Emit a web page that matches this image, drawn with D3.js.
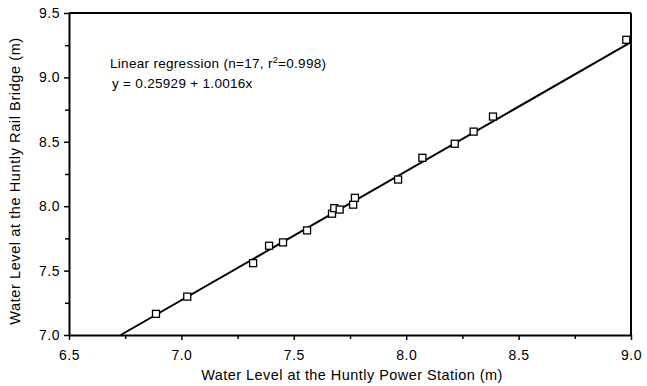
<!DOCTYPE html>
<html>
<head>
<meta charset="utf-8">
<script src="https://cdn.jsdelivr.net/npm/d3@7"></script>
<style>
  body { margin: 0; background: #fff; }
  svg { display: block; font-family: "Liberation Sans", Arial, sans-serif; }
</style>
</head>
<body>
<div id="chart"></div>
<script>
// water levels (m): Huntly Power Station (x) vs Huntly Rail Bridge (y)
const powerStation = [6.887, 7.026, 7.319, 7.390, 7.452, 7.559, 7.670, 7.680, 7.704, 7.764, 7.772, 7.964, 8.072, 8.216, 8.300, 8.386, 8.979];
const railBridge   = [7.164, 7.298, 7.558, 7.693, 7.719, 7.812, 7.942, 7.985, 7.974, 8.012, 8.065, 8.207, 8.376, 8.485, 8.579, 8.696, 9.292];
const fitCoef = [0.25929, 1.0016];
const xTicks = [6.5, 7.0, 7.5, 8.0, 8.5, 9.0];
const yTicks = [7.0, 7.5, 8.0, 8.5, 9.0, 9.5];
const minorTicks = [6.75, 7.25, 7.75, 8.25, 8.75, 9.25];

const W = 647, H = 386;
const m = { left: 69, right: W - 631, top: 13, bottom: H - 335 };
const svg = d3.select('#chart').append('svg').attr('width', W).attr('height', H);

const x = d3.scaleLinear().domain([6.5, 9.0]).range([m.left, W - m.right]);
const y = d3.scaleLinear().domain([7.0, 9.5]).range([H - m.bottom, m.top]);

const styleText = g => g.selectAll('text').attr('font-size', 14).attr('fill', '#000')
  .attr('letter-spacing', 0.5).attr('font-family', 'Liberation Sans, Arial, sans-serif');

// minor ticks
svg.append('g').attr('transform', `translate(0,${H - m.bottom})`)
  .call(d3.axisBottom(x).tickValues(minorTicks.filter(v => v < 9)).tickSize(4).tickFormat(''))
  .call(g => g.select('.domain').remove())
  .call(g => g.selectAll('line').attr('stroke-width', 1.5));
svg.append('g').attr('transform', `translate(${m.left},0)`)
  .call(d3.axisLeft(y).tickValues(minorTicks.filter(v => v > 7)).tickSize(4).tickFormat(''))
  .call(g => g.select('.domain').remove())
  .call(g => g.selectAll('line').attr('stroke-width', 1.5));

// major axes
svg.append('g').attr('transform', `translate(0,${H - m.bottom})`)
  .call(d3.axisBottom(x).tickValues(xTicks).tickSize(5).tickSizeOuter(0).tickPadding(10).tickFormat(d3.format('.1f')))
  .call(g => g.select('.domain').attr('stroke-width', 2))
  .call(g => g.selectAll('line').attr('stroke-width', 1.5))
  .call(styleText);
svg.append('g').attr('transform', `translate(${m.left},0)`)
  .call(d3.axisLeft(y).tickValues(yTicks).tickSize(5).tickSizeOuter(0).tickPadding(4).tickFormat(d3.format('.1f')))
  .call(g => g.select('.domain').attr('stroke-width', 2))
  .call(g => g.selectAll('line').attr('stroke-width', 1.5))
  .call(styleText);

// frame top and right
svg.append('line').attr('x1', m.left).attr('x2', W - m.right).attr('y1', m.top).attr('y2', m.top)
  .attr('stroke', '#000').attr('stroke-width', 2);
svg.append('line').attr('x1', W - m.right).attr('x2', W - m.right).attr('y1', m.top).attr('y2', H - m.bottom)
  .attr('stroke', '#000').attr('stroke-width', 2);

// regression line, clipped to the plot area
const x0 = (7.0 - fitCoef[0]) / fitCoef[1], x1 = 9.0;
svg.append('line')
  .attr('x1', x(x0)).attr('y1', y(fitCoef[0] + fitCoef[1] * x0))
  .attr('x2', x(x1)).attr('y2', y(fitCoef[0] + fitCoef[1] * x1))
  .attr('stroke', '#000').attr('stroke-width', 2);

// points
const s = 7;
svg.append('g').selectAll('rect').data(powerStation).join('rect')
  .attr('x', d => x(d) - s / 2).attr('y', (d, i) => y(railBridge[i]) - s / 2)
  .attr('width', s).attr('height', s)
  .attr('fill', '#fff').attr('stroke', '#000').attr('stroke-width', 1.3);

// annotation
const note = svg.append('g').attr('font-size', 13.5).attr('letter-spacing', 0.3).attr('fill', '#000');
const t1 = note.append('text').attr('x', 110).attr('y', 68);
t1.append('tspan').text('Linear regression  (n=17, r');
t1.append('tspan').attr('font-size', 9).attr('dy', -5).text('2');
t1.append('tspan').attr('dy', 5).text('=0.998)');
note.append('text').attr('x', 112).attr('y', 88).text('y = 0.25929 + 1.0016x');

// axis titles
svg.append('text').attr('x', 352).attr('y', 380)
  .attr('text-anchor', 'middle').attr('font-size', 14.5).attr('letter-spacing', 0.45)
  .text('Water Level at the Huntly Power Station (m)');
svg.append('text').attr('transform', 'translate(20,181) rotate(-90)')
  .attr('text-anchor', 'middle').attr('font-size', 14.5).attr('letter-spacing', 0.6)
  .text('Water Level at the Huntly Rail Bridge (m)');
</script>
</body>
</html>
